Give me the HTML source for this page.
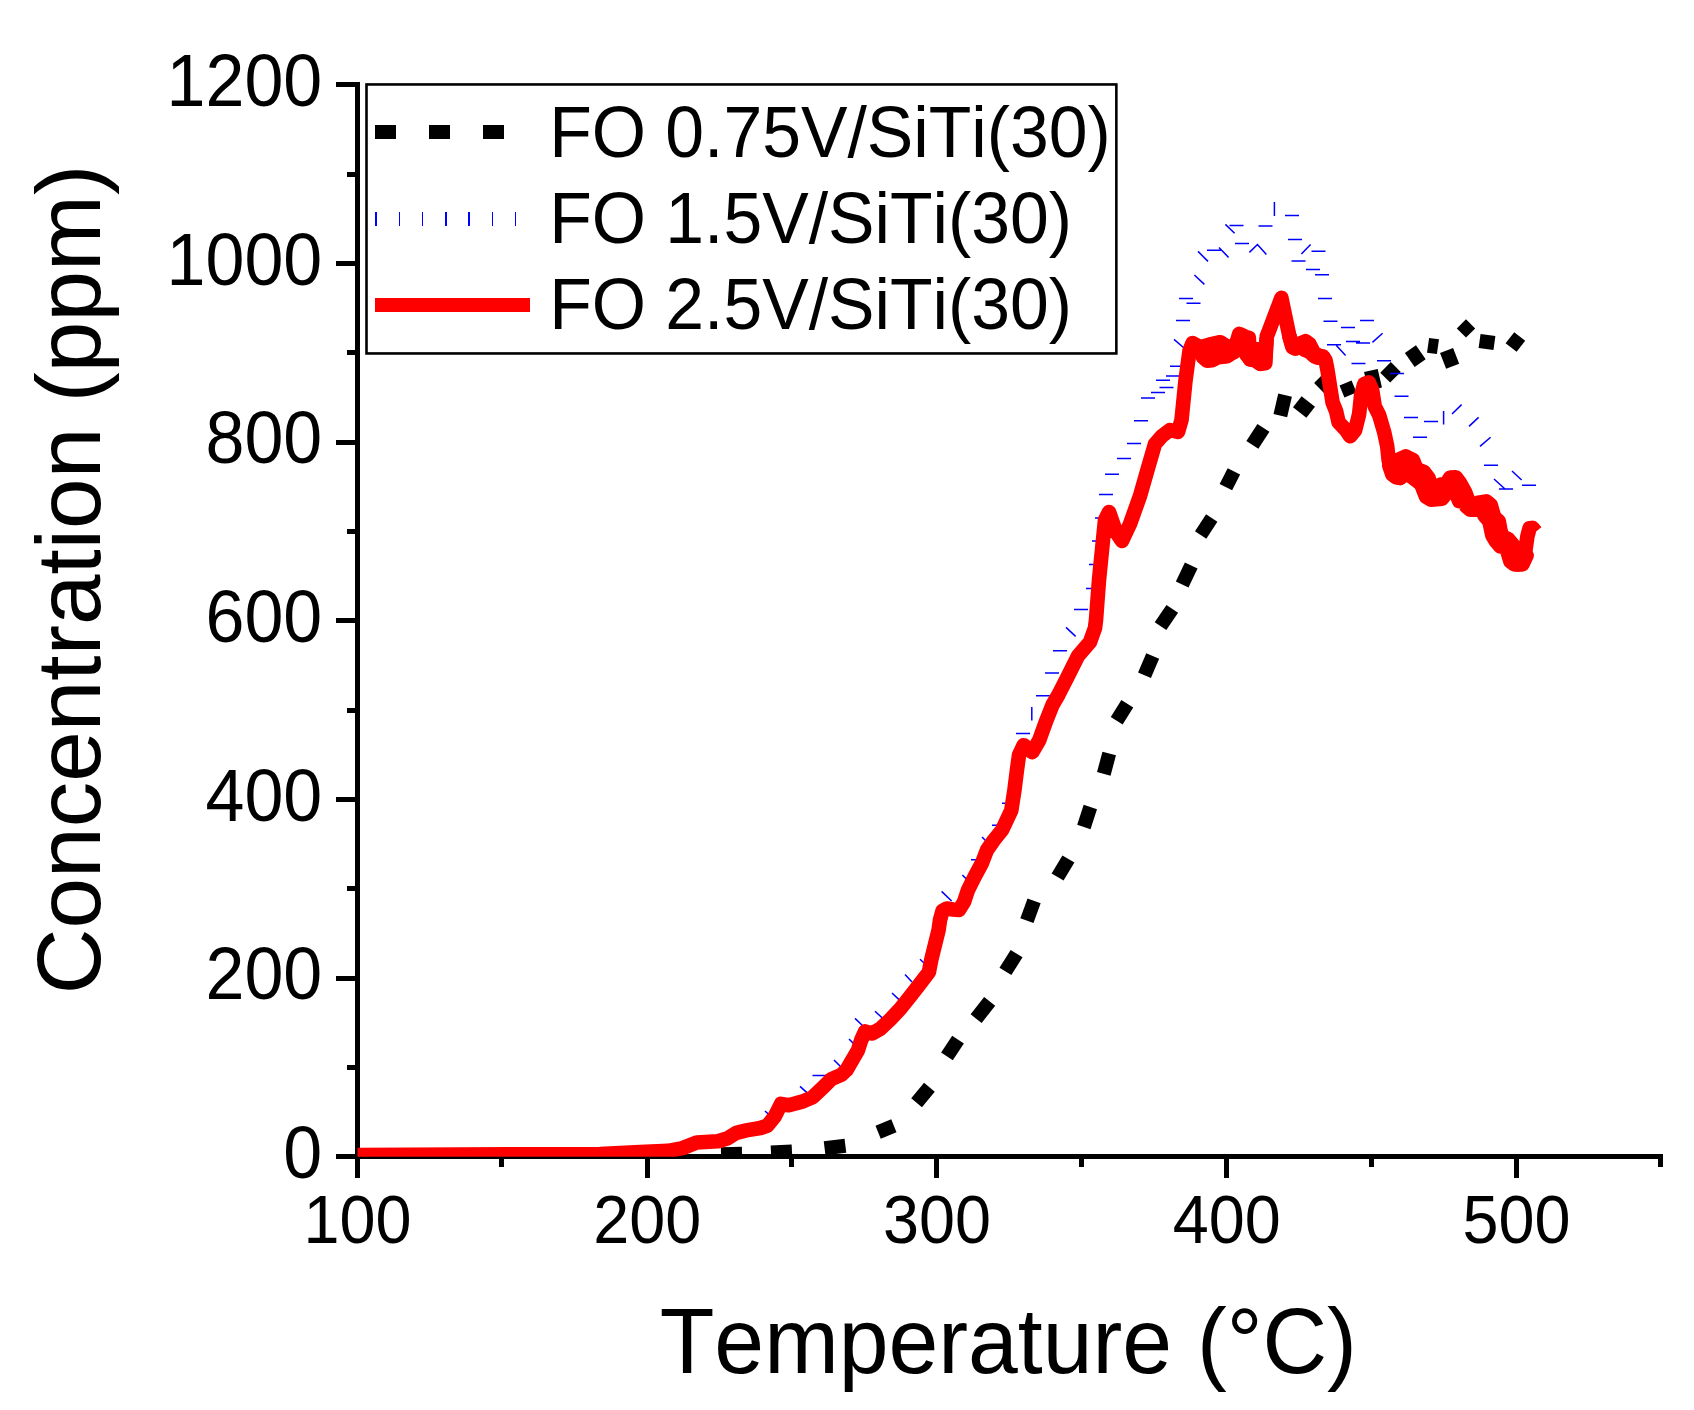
<!DOCTYPE html>
<html><head><meta charset="utf-8"><title>Concentration vs Temperature</title>
<style>html,body{margin:0;padding:0;background:#fff}svg{display:block}text{font-family:"Liberation Sans",Arial,sans-serif;fill:#000;font-kerning:none}</style>
</head><body>
<svg width="1694" height="1410" viewBox="0 0 1694 1410">
<rect width="1694" height="1410" fill="#fff"/>
<defs><clipPath id="plot"><rect x="357" y="84" width="1306" height="1072.7"/></clipPath></defs>

<g fill="#000" shape-rendering="crispEdges">
<rect x="355" y="82" width="5" height="1096"/>
<rect x="336" y="1154" width="1327" height="5"/>
<rect x="336" y="1154" width="20" height="5"/>
<rect x="347" y="1065" width="9" height="5"/>
<rect x="336" y="976" width="20" height="5"/>
<rect x="347" y="886" width="9" height="5"/>
<rect x="336" y="797" width="20" height="5"/>
<rect x="347" y="708" width="9" height="5"/>
<rect x="336" y="618" width="20" height="5"/>
<rect x="347" y="529" width="9" height="5"/>
<rect x="336" y="440" width="20" height="5"/>
<rect x="347" y="350" width="9" height="5"/>
<rect x="336" y="261" width="20" height="5"/>
<rect x="347" y="172" width="9" height="5"/>
<rect x="336" y="82" width="20" height="5"/>
<rect x="355" y="1156" width="5" height="22"/>
<rect x="499" y="1156" width="5" height="11"/>
<rect x="645" y="1156" width="5" height="22"/>
<rect x="789" y="1156" width="5" height="11"/>
<rect x="934" y="1156" width="5" height="22"/>
<rect x="1079" y="1156" width="5" height="11"/>
<rect x="1224" y="1156" width="5" height="22"/>
<rect x="1369" y="1156" width="5" height="11"/>
<rect x="1514" y="1156" width="5" height="22"/>
<rect x="1658" y="1156" width="5" height="11"/>
</g>
<text transform="translate(322.3,1177.9) scale(1,1.055)" font-size="70" text-anchor="end">0</text>
<text transform="translate(322.3,999.2) scale(1,1.055)" font-size="70" text-anchor="end">200</text>
<text transform="translate(322.3,820.6) scale(1,1.055)" font-size="70" text-anchor="end">400</text>
<text transform="translate(322.3,641.9) scale(1,1.055)" font-size="70" text-anchor="end">600</text>
<text transform="translate(322.3,463.2) scale(1,1.055)" font-size="70" text-anchor="end">800</text>
<text transform="translate(322.3,284.6) scale(1,1.055)" font-size="70" text-anchor="end">1000</text>
<text transform="translate(322.3,105.9) scale(1,1.055)" font-size="70" text-anchor="end">1200</text>
<text transform="translate(357.5,1242.8) scale(1,1.07)" font-size="64.7" text-anchor="middle">100</text>
<text transform="translate(647.2,1242.8) scale(1,1.07)" font-size="64.7" text-anchor="middle">200</text>
<text transform="translate(937.0,1242.8) scale(1,1.07)" font-size="64.7" text-anchor="middle">300</text>
<text transform="translate(1226.8,1242.8) scale(1,1.07)" font-size="64.7" text-anchor="middle">400</text>
<text transform="translate(1516.5,1242.8) scale(1,1.07)" font-size="64.7" text-anchor="middle">500</text>
<text transform="translate(1008.3,1372.9) scale(1,1.03)" font-size="89.5" text-anchor="middle">Temperature (°C)</text>
<text transform="translate(100.2,994.3) rotate(-90)" font-size="91">Concentration (ppm)</text>
<g clip-path="url(#plot)">
<g fill="#000">
<rect x="-10.5" y="-7.0" width="21" height="14" transform="translate(731.5,1154) rotate(-1.0)"/>
<rect x="-10.5" y="-7.0" width="21" height="14" transform="translate(781.5,1152) rotate(-3.0)"/>
<rect x="-10.5" y="-7.0" width="21" height="14" transform="translate(835,1147) rotate(-7.0)"/>
<rect x="-8.5" y="-7.0" width="17" height="14" transform="translate(886,1129) rotate(-22.0)"/>
<rect x="-10.0" y="-7.0" width="20" height="14" transform="translate(923,1095) rotate(-50.0)"/>
<rect x="-10.0" y="-7.0" width="20" height="14" transform="translate(952.5,1048) rotate(-56.4)"/>
<rect x="-11.0" y="-7.0" width="22" height="14" transform="translate(982.9,1010) rotate(-52.0)"/>
<rect x="-10.5" y="-7.0" width="21" height="14" transform="translate(1011,962.5) rotate(-58.0)"/>
<rect x="-10.5" y="-7.0" width="21" height="14" transform="translate(1030.5,910.7) rotate(-70.0)"/>
<rect x="-10.5" y="-7.0" width="21" height="14" transform="translate(1063,868) rotate(-58.9)"/>
<rect x="-10.5" y="-7.0" width="21" height="14" transform="translate(1087.1,817) rotate(-72.0)"/>
<rect x="-10.5" y="-7.0" width="21" height="14" transform="translate(1106.5,763.7) rotate(-75.0)"/>
<rect x="-10.0" y="-7.0" width="20" height="14" transform="translate(1122,712.3) rotate(-58.0)"/>
<rect x="-10.5" y="-7.0" width="21" height="14" transform="translate(1148.6,665.6) rotate(-67.0)"/>
<rect x="-10.5" y="-7.0" width="21" height="14" transform="translate(1166.4,617.5) rotate(-56.0)"/>
<rect x="-10.5" y="-7.0" width="21" height="14" transform="translate(1186.7,575) rotate(-64.5)"/>
<rect x="-10.15" y="-6.75" width="20.3" height="13.5" transform="translate(1206.2,526.5) rotate(-57.0)"/>
<rect x="-8.85" y="-7.0" width="17.7" height="14" transform="translate(1229.9,479.3) rotate(-63.0)"/>
<rect x="-10.15" y="-7.15" width="20.3" height="14.3" transform="translate(1257.9,436.4) rotate(-57.0)"/>
<rect x="-10.5" y="-7.0" width="21" height="14" transform="translate(1282.7,405.4) rotate(-77.0)"/>
<rect x="-8.5" y="-7.0" width="17" height="14" transform="translate(1304,407) rotate(38.0)"/>
<rect x="-7.0" y="-7.0" width="14" height="14" transform="translate(1324,383) rotate(45.0)"/>
<rect x="-6.5" y="-6.5" width="13" height="13" transform="translate(1348,389) rotate(-22.0)"/>
<rect x="-9.5" y="-7.0" width="19" height="14" transform="translate(1373,379.8) rotate(77.0)"/>
<rect x="-7.5" y="-7.0" width="15" height="14" transform="translate(1390.5,372.3) rotate(-45.0)"/>
<rect x="-6.75" y="-8.5" width="13.5" height="17" transform="translate(1415.3,356.2) rotate(-35.0)"/>
<rect x="-7.5" y="-5.0" width="15" height="10" transform="translate(1433,346) rotate(-82.0)"/>
<rect x="-8.5" y="-7.0" width="17" height="14" transform="translate(1449.6,358.4) rotate(69.0)"/>
<rect x="-6.5" y="-6.5" width="13" height="13" transform="translate(1466,328.4) rotate(45.0)"/>
<rect x="-7.5" y="-7.0" width="15" height="14" transform="translate(1487,342) rotate(8.0)"/>
<rect x="-7.0" y="-7.0" width="14" height="14" transform="translate(1515.4,342) rotate(38.0)"/>
</g>
<path stroke="#0000ff" stroke-width="1.5" fill="none" d="M812.5 1075.4L826.5 1075.4 M971.0 859.8L985.0 859.8 M992.0 825.2L1006.0 825.2 M1002.0 803.2L1016.0 803.2 M1016.0 733.4L1030.0 733.4 M1036.0 695.8L1050.0 695.8 M1045.0 673.0L1059.0 673.0 M1053.0 650.8L1067.0 650.8 M1074.0 609.4L1088.0 609.4 M1086.0 588.4L1100.0 588.4 M1089.0 564.6L1103.0 564.6 M1092.0 541.0L1106.0 541.0 M1095.0 518.0L1109.0 518.0 M1099.0 494.6L1113.0 494.6 M1105.0 474.2L1119.0 474.2 M1117.0 458.4L1131.0 458.4 M1127.0 443.4L1141.0 443.4 M1134.0 420.8L1148.0 420.8 M1141.0 398.0L1155.0 398.0 M1151.0 392.4L1165.0 392.4 M1159.5 387.4L1173.5 387.4 M1156.0 380.2L1170.0 380.2 M1166.0 376.0L1180.0 376.0 M1170.0 366.2L1184.0 366.2 M1176.0 320.4L1190.0 320.4 M1186.5 303.2L1200.5 303.2 M1179.0 298.4L1193.0 298.4 M1207.0 250.2L1221.0 250.2 M1229.5 225.6L1243.5 225.6 M1235.0 243.4L1249.0 243.4 M1258.5 226.0L1272.5 226.0 M1285.0 215.4L1299.0 215.4 M1288.0 239.4L1302.0 239.4 M1311.5 251.2L1325.5 251.2 M1291.5 261.0L1305.5 261.0 M1306.0 269.4L1320.0 269.4 M1315.0 274.8L1329.0 274.8 M1318.0 298.4L1332.0 298.4 M1323.5 321.2L1337.5 321.2 M1341.0 327.4L1355.0 327.4 M1360.0 320.4L1374.0 320.4 M1346.0 341.4L1360.0 341.4 M1356.0 343.0L1370.0 343.0 M1327.0 344.8L1341.0 344.8 M1351.5 363.6L1365.5 363.6 M1377.0 360.8L1391.0 360.8 M1390.0 373.4L1404.0 373.4 M1394.5 396.2L1408.5 396.2 M1404.0 417.4L1418.0 417.4 M1424.0 421.4L1438.0 421.4 M1413.0 437.2L1427.0 437.2 M1484.0 465.2L1498.0 465.2 M1499.0 489.0L1513.0 489.0 M1522.0 485.2L1536.0 485.2 M765.0 1111.0L770.0 1115.6 M800.0 1086.4L808.0 1093.6 M834.0 1060.0L841.0 1067.0 M849.0 1039.0L854.0 1044.0 M855.0 1018.4L863.0 1026.0 M875.0 1011.2L883.0 1018.6 M892.0 993.0L899.0 999.6 M905.0 974.4L912.0 982.0 M920.0 959.2L924.0 963.0 M941.6 891.4L951.6 901.0 M962.4 875.0L967.0 879.6 M982.0 837.0L986.0 841.0 M1031.8 707.0L1031.8 720.4 M1066.0 627.4L1075.6 636.4 M1174.0 339.4L1184.0 348.0 M1194.4 275.0L1204.4 284.4 M1198.0 251.4L1208.0 261.4 M1219.0 247.6L1228.6 257.4 M1225.4 224.4L1234.6 233.2 M1249.4 252.4L1258.0 244.0 M1257.0 244.0L1266.4 254.4 M1274.4 202.0L1274.4 216.0 M1301.4 254.0L1310.6 244.4 M1372.4 342.4L1382.6 333.2 M1336.4 345.6L1345.6 355.6 M1443.6 411.0L1443.6 424.4 M1452.0 414.0L1461.6 404.6 M1469.0 426.4L1478.6 417.4 M1480.0 446.4L1490.6 437.2 M1512.0 471.0L1521.6 480.0 M1494.0 479.0L1505.0 489.0"/>
<g fill="none" stroke="#ff0000" stroke-width="14.6" stroke-linejoin="round" stroke-linecap="butt">
<path d="M357.5 1155 L600 1154 L640 1152.1 L668.3 1150.8 L682.5 1148.1 L696.7 1142.5 L718 1141.3 L727.8 1138.2 L736.3 1132.8 L746.3 1130.4 L760.4 1128 L767.5 1125.5 L774.6 1116.7 L781 1103.9 L788.8 1105.3 L803 1101.4 L812.9 1097.1 L824.2 1086.2 L831.3 1079.1 L841.2 1074.9 L846.5 1070 L857.9 1050.4 L861.1 1040.4 L865.2 1031.4 L872.2 1033.4 L880.2 1028.8 L890.2 1019.5 L900.3 1008.8 L910.3 996.2 L920.4 983.2 L928.9 972.1 L931.2 960.1 L934.9 945.1 L938.6 930 L940 920 L942.5 911 L947 908.5 L953 909.5 L959 910 L964 902 L968 890 L975 876 L982 863 L987 850 L994 840 L1002.1 830 L1011.3 810.4 L1014.4 790.4 L1016.9 770.3 L1019 755.2 L1023.7 745.2 L1032.2 752.2 L1039.2 740.2 L1046.5 720.1 L1052.5 705 L1058.3 695 L1068 676 L1078 656 L1090 642 L1095 628 L1096 620 L1099 580 L1102 550 L1105 520 L1109 512 L1116 532 L1122 541 L1130 524 L1140 496 L1148 468 L1155 444 L1162 436 L1170 430 L1178 432 L1181.5 420.0 L1185.5 380.4 L1189.6 350.2 L1192.6 343.0 L1200.1 347.2 L1209.1 344.7 L1220.2 342.2 L1225.7 345.7 L1233.7 352.3 L1239.2 333.9 L1245.2 336.7 L1248.8 337.7 L1250.1 359.3 L1255.3 360.3 L1260.3 363.8 L1264.8 361.3 L1266.8 336.2 L1268.8 331.2 L1281.4 297.9 L1289.4 336.2 L1291.9 344.2 L1298.4 344.2 L1305.5 341.2 L1309.5 344.2 L1314.0 352.8 L1319.5 355.8 L1323.0 356.5 L1325.5 360.3 L1327.5 370.3 L1329.5 383.1 L1332.5 402.2 L1336.1 411.2 L1338.6 422.3 L1346.1 430.3 L1350.1 436.3 L1355.1 430.3 L1359.1 414.2 L1361.1 395.2 L1364.2 384.1 L1368.7 382.3 L1372.2 390.1 L1374.7 406.2 L1379.2 415.2 L1384.2 432.3 L1387.2 446.3 L1388.7 460.4 L1390.2 465.4 L1399.3 459.4 L1405.8 456.4 L1413.0 460.1 L1416.6 469.1 L1424.1 472.1 L1428.6 478.1 L1431.1 488.2 L1433.6 496.2 L1440.1 484.7 L1446.2 483.7 L1450.2 477.6 L1455.7 477.3 L1460.2 483.2 L1465.2 492.2 L1468.2 500.2 L1472.3 506.2 L1478.3 502.7 L1486.3 501.4 L1490.8 505.2 L1492.8 512.3 L1494.3 517.3 L1498.8 521.3 L1500.4 530.3 L1502.4 536.3 L1508.4 539.3 L1513.4 545.4 L1516.4 554.4 L1518.4 564.4 L1525.4 550.4 L1527.4 536.3 L1529.5 528.3 L1532.5 527.9 L1535.7 531.8"/>
<path stroke-linecap="round" d="M1196.6 348.2 L1207.1 353.8 L1218.2 350.2 L1227.2 350.7 L1235.2 344.2"/>
<path stroke-linecap="round" d="M1251.3 349.2 L1265.8 349.2"/>
<path stroke-linecap="round" d="M1390.2 465.4 L1400.3 467.4 L1406.3 463.4"/>
<path stroke-linecap="round" d="M1449.5 483.5 L1454.5 483.5 L1460.5 490.5"/>
<path stroke-linecap="round" d="M1445.4 494.2 L1452.2 487.2 L1456.2 488.2"/>
<path stroke-linecap="round" d="M1192.6 344.2 L1199.1 348.7 L1203.1 357.3 L1207.1 360.8 L1212.1 360.3 L1218.2 357.3 L1227.2 356.3 L1233.2 352.3 L1240.2 343.7 L1244.2 347.2 L1246.2 354.3 L1250.3 359.3 L1255.3 360.3 L1260.3 363.8 L1265.3 363.3 L1266.5 340.2"/>
<path stroke-linecap="round" d="M1289.4 336.2 L1292.4 347.2 L1295.4 348.7 L1300.4 346.2 L1304.5 349.7 L1309.5 351.8 L1314.5 356.3 L1318.5 357.8 L1323.5 357.3"/>
<path stroke-linecap="round" d="M1389.2 465.4 L1392.3 474.4 L1396.3 477.4 L1400.3 477.4 L1405.3 471.4 L1407.3 473.4 L1412.3 475.4 L1415.3 479.5 L1420.4 483.5 L1425.4 490.5"/>
<path stroke-linecap="round" d="M1400.0 478.1 L1406.0 473.1 L1414.0 478.6 L1420.1 479.6 L1423.1 489.2 L1426.1 496.7 L1431.1 499.7 L1442.1 498.7 L1445.4 494.2"/>
<path stroke-linecap="round" d="M1456.7 495.2 L1459.2 501.2 L1464.2 502.2 L1466.2 506.2 L1470.2 509.7 L1476.3 509.7 L1481.8 507.7 L1484.3 515.3 L1489.3 521.3 L1492.3 535.3 L1495.3 540.4 L1500.4 546.4 L1506.4 546.9 L1507.4 551.4 L1510.4 561.4 L1514.4 564.4 L1522.4 564.4 L1526.6 555.4"/>
</g></g>
<rect x="366.5" y="84.45" width="749.85" height="269" fill="#fff" stroke="#000" stroke-width="2.6"/>
<g shape-rendering="crispEdges"><rect x="375" y="125" width="21" height="14"/><rect x="429" y="125" width="21" height="14"/><rect x="483" y="125" width="21" height="14"/>
<rect x="375.2" y="212" width="1.5" height="14" fill="#0000ff"/>
<rect x="398.5" y="212" width="1.5" height="14" fill="#0000ff"/>
<rect x="421.7" y="212" width="1.5" height="14" fill="#0000ff"/>
<rect x="445.0" y="212" width="1.5" height="14" fill="#0000ff"/>
<rect x="468.3" y="212" width="1.5" height="14" fill="#0000ff"/>
<rect x="491.5" y="212" width="1.5" height="14" fill="#0000ff"/>
<rect x="514.8" y="212" width="1.5" height="14" fill="#0000ff"/>
<rect x="375" y="298" width="155" height="14" fill="#ff0000"/></g>
<text transform="translate(549.2,156.9) scale(1,1.04)" font-size="69.7" text-anchor="start">FO 0.75V/SiTi(30)</text>
<text transform="translate(549.2,243.1) scale(1,1.04)" font-size="69.7" text-anchor="start">FO 1.5V/SiTi(30)</text>
<text transform="translate(549.2,329.3) scale(1,1.04)" font-size="69.7" text-anchor="start">FO 2.5V/SiTi(30)</text>
</svg></body></html>
